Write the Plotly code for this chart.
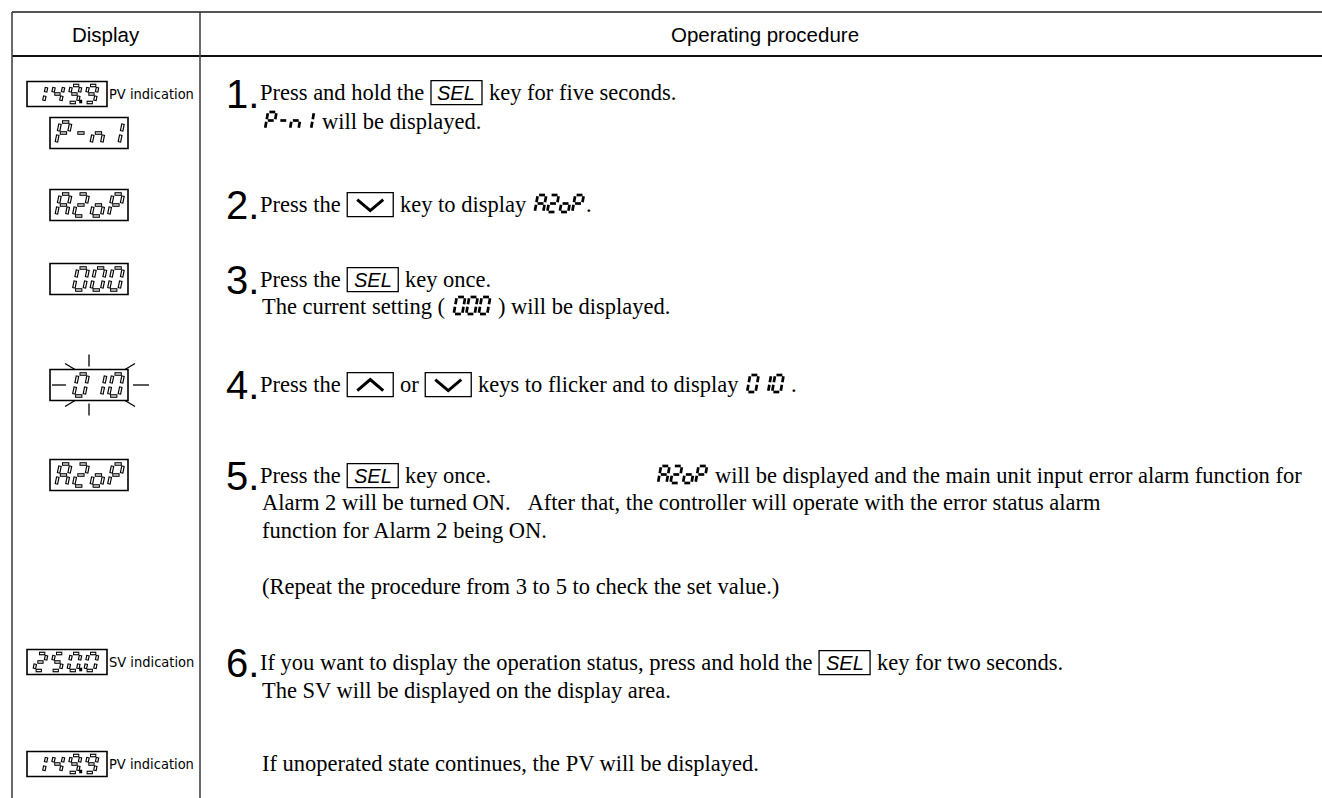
import plotly.graph_objects as go

W, H = 1322, 798

SERIF = "Liberation Serif, Times New Roman, serif"
SANS = "Liberation Sans, Arial, sans-serif"
NARROW = "Liberation Sans Narrow, DejaVu Sans Condensed, Liberation Sans, sans-serif"

# ---------------- content ----------------
header_texts = ["Display", "Operating procedure"]

disp_codes = ["149.9", "P-n1", "A2oP", " 000", " 010", "A2oP", "250.0", "149.9"]
disp_labels = ["PV indication", "", "", "", "", "", "SV indication", "PV indication"]
disp_centers = [94, 133, 205, 279, 385, 475, 662, 764]
disp_flicker = [False, False, False, False, True, False, False, False]

step_numbers = ["1.", "2.", "3.", "4.", "5.", "6."]
step_centers = [94, 205, 280, 385, 476, 663]

line_tokens = [
    [("t", "Press and hold the "), ("key", "SEL"), ("t", " key for five seconds.")],
    [("seg", "P-n1"), ("t", " will be displayed.")],
    [("t", "Press the "), ("down",), ("t", " key to display "), ("seg", "A2oP"), ("t", ".")],
    [("t", "Press the "), ("key", "SEL"), ("t", " key once.")],
    [("t", "The current setting ( "), ("seg", "000"), ("t", " ) will be displayed.")],
    [("t", "Press the "), ("up",), ("t", " or "), ("down",), ("t", " keys to flicker and to display "),
     ("seg", "010"), ("t", " .")],
    [("t", "Press the "), ("key", "SEL"), ("t", " key once."), ("at", 655), ("seg", "A2oP"),
     ("t", " will be displayed and the main unit input error alarm function for")],
    [("t", "Alarm 2 will be turned ON.   After that, the controller will operate with the error status alarm")],
    [("t", "function for Alarm 2 being ON.")],
    [("t", "(Repeat the procedure from 3 to 5 to check the set value.)")],
    [("t", "If you want to display the operation status, press and hold the "), ("key", "SEL"),
     ("t", " key for two seconds.")],
    [("t", "The SV will be displayed on the display area.")],
    [("t", "If unoperated state continues, the PV will be displayed.")],
]
line_baselines = [100, 129, 212, 287, 314, 392, 483, 510, 538, 594, 670, 698, 771]
line_is_first = [True, False, True, True, False, True, True, False, False, False, True, False, False]

# ---------------- style / layout constants ----------------
FS = 22.5
NUM_FS = 40
X_NUM = 226
X_FIRST = 260
X_CONT = 262

TW = {' ': 250, '!': 333, '(': 333, ')': 333, ',': 250, '-': 333, '.': 250, ':': 278,
      'A': 722, 'B': 667, 'C': 667, 'D': 722, 'E': 611, 'F': 556, 'G': 722, 'H': 722, 'I': 333,
      'J': 389, 'K': 722, 'L': 611, 'M': 889, 'N': 722, 'O': 722, 'P': 556, 'Q': 722, 'R': 667,
      'S': 556, 'T': 611, 'U': 722, 'V': 722, 'W': 944, 'X': 722, 'Y': 722, 'Z': 611,
      'a': 444, 'b': 500, 'c': 444, 'd': 500, 'e': 444, 'f': 333, 'g': 500, 'h': 500, 'i': 278,
      'j': 278, 'k': 500, 'l': 278, 'm': 778, 'n': 500, 'o': 500, 'p': 500, 'q': 500, 'r': 333,
      's': 389, 't': 278, 'u': 500, 'v': 500, 'w': 722, 'x': 500, 'y': 500, 'z': 444}


def text_width(s, size):
    return sum(TW.get(c, 500) for c in s) * size / 1000.0


SEG = {'0': 'abcdef', '1': 'bc', '2': 'abged', '3': 'abcdg', '4': 'bcfg', '5': 'acdfg',
       '6': 'acdefg', '7': 'abc', '8': 'abcdefg', '9': 'abcdfg', 'A': 'abcefg', 'P': 'abefg',
       'n': 'ceg', 'o': 'cdeg', '-': 'g', ' ': ''}

stores = {"box_black": ([], []), "box_white": ([], []), "fill": ([], [])}


def seg_lines(ch, x0, ybot, h, w, skew, gap, inset=0.0):
    pts = {
        'a': ((gap + inset, 0), (w - gap - inset, 0)),
        'g': ((gap + inset, h / 2), (w - gap - inset, h / 2)),
        'd': ((gap + inset, h), (w - gap - inset, h)),
        'f': ((0, gap + inset), (0, h / 2 - gap - inset)),
        'b': ((w, gap + inset), (w, h / 2 - gap - inset)),
        'e': ((0, h / 2 + gap + inset), (0, h - gap - inset)),
        'c': ((w, h / 2 + gap + inset), (w, h - gap - inset)),
    }
    out = []
    for s in SEG.get(ch, ''):
        (ax, ay), (bx, by) = pts[s]
        out.append(((x0 + ax + skew * (h - ay), ybot - h + ay),
                    (x0 + bx + skew * (h - by), ybot - h + by)))
    return out


def push(store, segs):
    for (p, q) in segs:
        store[0].extend([p[0], q[0], None])
        store[1].extend([p[1], q[1], None])


def draw_code(code, x0, ybot, h, w, pitch, style, skew=0.2, dot_size=3.0):
    cells = []
    for c in code:
        if c == '.' and cells:
            cells[-1][1] = True
        else:
            cells.append([c, False])
    gap = 1.6
    for i, (c, dot) in enumerate(cells):
        cx = x0 + i * pitch
        if style == "box":
            push(stores["box_black"], seg_lines(c, cx, ybot, h, w, skew, gap))
            push(stores["box_white"], seg_lines(c, cx, ybot, h, w, skew, gap, inset=1.0))
        else:
            push(stores["fill"], seg_lines(c, cx, ybot, h, w, skew, 1.3))
        if dot:
            dx = cx + w + 3.2
            push(stores["box_black"] if style == "box" else stores["fill"],
                 [((dx - dot_size / 2, ybot - 1), (dx + dot_size / 2, ybot - 1))])
    return len(cells) * pitch


shapes = []
annotations = []


def line_shape(x0, y0, x1, y1, color="black", width=1.0):
    shapes.append(dict(type="line", xref="x", yref="y", x0=x0, y0=y0, x1=x1, y1=y1,
                       line=dict(color=color, width=width)))


def rect_shape(x0, y0, x1, y1, color="black", width=1.2):
    shapes.append(dict(type="rect", xref="x", yref="y", x0=x0, y0=y0, x1=x1, y1=y1,
                       line=dict(color=color, width=width), fillcolor="rgba(0,0,0,0)"))


def text_ann(x, y, text, size, family, xanchor="left", italic=False):
    annotations.append(dict(x=x, y=y, xref="x", yref="y", text=text, showarrow=False,
                            xanchor=xanchor, yanchor="middle", borderpad=0, borderwidth=0,
                            font=dict(size=size, family=family, color="black",
                                      style="italic" if italic else "normal")))


# ---------------- table frame ----------------
TOP, HDR, LEFT, DIV = 12, 56, 12, 200
line_shape(LEFT, TOP, W + 5, TOP, color="#555555", width=2.2)
line_shape(LEFT, HDR, W + 5, HDR, color="#111111", width=1.8)
line_shape(LEFT, TOP, LEFT, H + 5, color="#444444", width=1.6)
line_shape(DIV, TOP, DIV, H + 5, color="#444444", width=1.6)

text_ann((LEFT + DIV) / 2, (TOP + HDR) / 2, header_texts[0], 20.5, SANS, xanchor="center")
text_ann(765, (TOP + HDR) / 2, header_texts[1], 20.5, SANS, xanchor="center")

# ---------------- display column ----------------
for code, label, yc, fl in zip(disp_codes, disp_labels, disp_centers, disp_flicker):
    if label:
        bx0, bx1, bh = 27, 107, 25
        dh, dw, pitch = 17, 9.5, 17
        xs = bx0 + 7
    else:
        bx0, bx1, bh = 50, 128, 31
        dh, dw, pitch = 22, 10.5, 17.5
        xs = bx0 + 6
    by0, by1 = yc - bh / 2, yc + bh / 2
    rect_shape(bx0, by0, bx1, by1, width=1.6)
    draw_code(code, xs, yc + dh / 2, dh, dw, pitch, "box")
    if label:
        text_ann(bx1 + 2, yc, label, 14.5, NARROW)
    if fl:
        cx = (bx0 + bx1) / 2
        line_shape(cx, by0 - 15, cx, by0 - 3, width=1.3)
        line_shape(cx, by1 + 3, cx, by1 + 15, width=1.3)
        line_shape(bx0 + 2, yc, bx0 + 16, yc, width=1.3)
        line_shape(bx1 + 5, yc, bx1 + 21, yc, width=1.3)
        line_shape(bx0 + 15, by0 - 6, bx0 + 25, by0 + 0, width=1.3)
        line_shape(bx1 + 7, by0 - 6, bx1 - 3, by0 + 0, width=1.3)
        line_shape(bx0 + 15, by1 + 6, bx0 + 25, by1 + 0, width=1.3)
        line_shape(bx1 + 7, by1 + 6, bx1 - 3, by1 + 0, width=1.3)

# ---------------- step numbers ----------------
for num, yc in zip(step_numbers, step_centers):
    text_ann(X_NUM, yc, num, NUM_FS, SANS)

# ---------------- procedure text ----------------
KEY_W, KEY_H = 53, 24
ARROW_W = 48
SEG_H, SEG_W, SEG_P = 17, 8.5, 12.5

for toks, base, first in zip(line_tokens, line_baselines, line_is_first):
    x = X_FIRST if first else X_CONT
    ymid = base - 0.3375 * FS
    kcy = base - 0.33 * FS
    for tok in toks:
        kind = tok[0]
        if kind == "t":
            s = tok[1]
            lead = len(s) - len(s.lstrip(" "))
            body = s.strip(" ").replace("   ", " \u00a0\u00a0").replace("  ", " \u00a0")
            if body:
                text_ann(x + text_width(s[:lead], FS), ymid, body, FS, SERIF)
            x += text_width(s, FS)
        elif kind == "at":
            x = tok[1]
        elif kind == "key":
            rect_shape(x + 1, kcy - KEY_H / 2, x + KEY_W - 1, kcy + KEY_H / 2, width=1.3)
            text_ann(x + KEY_W / 2, kcy, tok[1], 20, SANS, xanchor="center", italic=True)
            x += KEY_W
        elif kind in ("up", "down"):
            x0b, x1b = x + 1, x + ARROW_W - 1
            y0b, y1b = kcy - KEY_H / 2, kcy + KEY_H / 2
            rect_shape(x0b, y0b, x1b, y1b, width=1.3)
            cx = (x0b + x1b) / 2
            if kind == "down":
                p = f"M {x0b + 10},{y0b + 7} L {cx},{y1b - 6} L {x1b - 10},{y0b + 7}"
            else:
                p = f"M {x0b + 10},{y1b - 6} L {cx},{y0b + 7} L {x1b - 10},{y1b - 6}"
            shapes.append(dict(type="path", xref="x", yref="y", path=p,
                               line=dict(color="black", width=3)))
            x += ARROW_W
        elif kind == "seg":
            x += draw_code(tok[1], x + 3, base, SEG_H, SEG_W, SEG_P, "fill", skew=0.18) + 4

# ---------------- figure ----------------
fig = go.Figure()
trace_styles = [("box_black", "black", 3.6), ("box_white", "white", 1.3), ("fill", "black", 2.7)]
for key, color, width in trace_styles:
    xs, ys = stores[key]
    fig.add_trace(go.Scatter(x=xs, y=ys, mode="lines", line=dict(color=color, width=width),
                             hoverinfo="skip", showlegend=False, connectgaps=False))

fig.update_layout(
    width=W, height=H,
    margin=dict(l=0, r=0, t=0, b=0),
    paper_bgcolor="white", plot_bgcolor="white",
    xaxis=dict(range=[0, W], visible=False, fixedrange=True),
    yaxis=dict(range=[H, 0], visible=False, fixedrange=True),
    shapes=shapes, annotations=annotations, showlegend=False,
)

fig.write_html("out.html", config={"displayModeBar": False},
               post_script="document.body.style.margin='0px';")
